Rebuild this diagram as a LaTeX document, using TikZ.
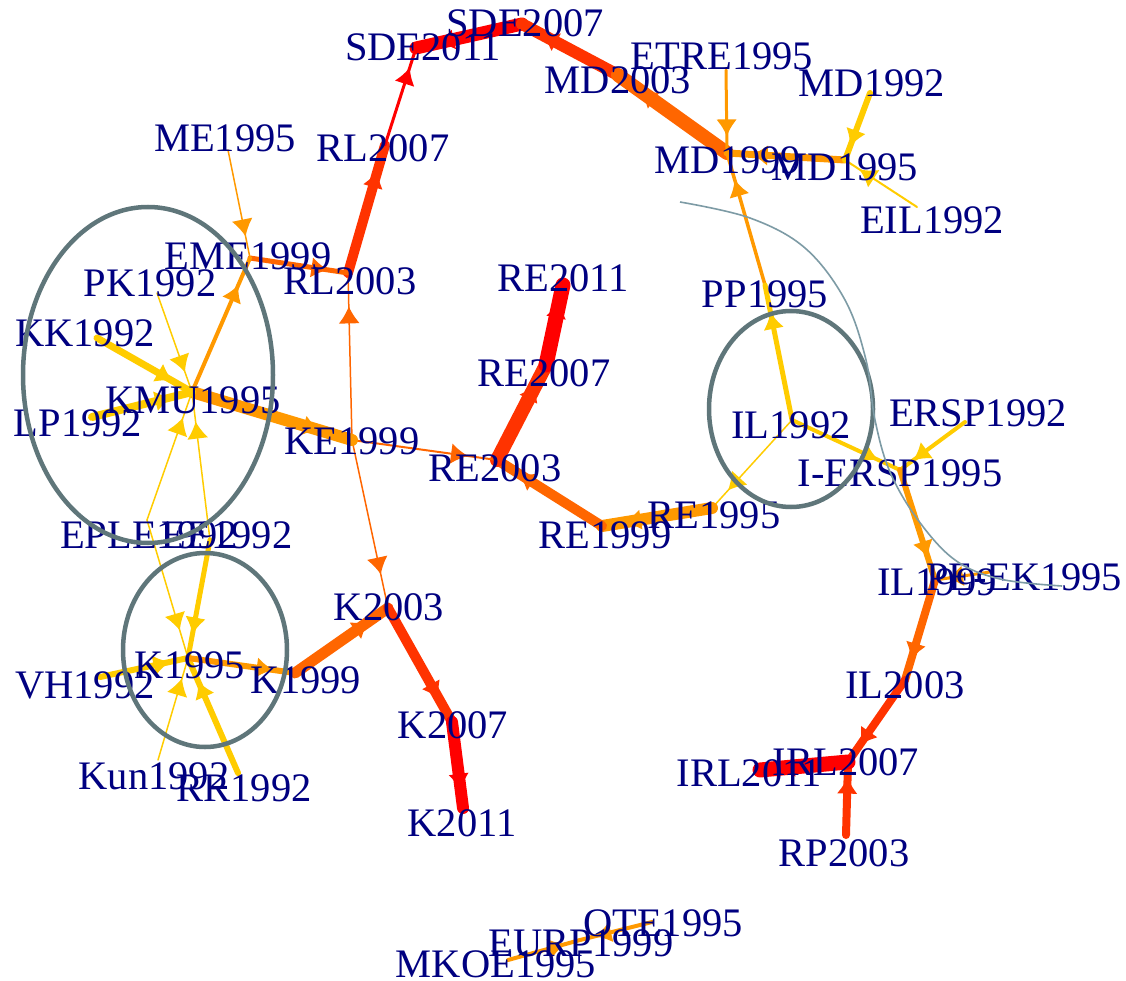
\documentclass[tikz,border=0pt]{standalone}
\usepackage{fontspec}
\setmainfont{Liberation Serif}
\usetikzlibrary{arrows.meta,decorations.markings}
\definecolor{navyc}{RGB}{0,0,128}
\definecolor{yel}{RGB}{255,204,0}
\definecolor{org}{RGB}{255,153,0}
\definecolor{dorg}{RGB}{255,102,0}
\definecolor{rorg}{RGB}{255,51,0}
\definecolor{redc}{RGB}{255,0,0}
\definecolor{ellc}{RGB}{95,118,122}
\definecolor{arcc}{RGB}{125,155,165}
\newcommand\lblfont{\fontsize{40.5pt}{48pt}\selectfont}
\tikzset{
  lbl/.style={text=navyc, font=\lblfont, inner sep=0pt, anchor=center},
  e/.style n args={2}{draw=#1, line width=#2, line cap=round,
    postaction={decorate},
    decoration={markings, mark=at position 0.8 with {\arrow[color=#1]{Latex[length=17pt,width=21pt]}}}},
  grp/.style={draw=ellc, line width=4.5pt},
  thinarc/.style={draw=arcc, line width=1.6pt}
}
\begin{document}
\begin{tikzpicture}[x=1pt,y=-1pt]
\useasboundingbox (0,0) rectangle (1126,981);
\fill[white] (0,0) rectangle (1126,981);
% node points
\coordinate (SDEa) at (522,24);
\coordinate (SDEb) at (416,48);
\coordinate (MDc) at (618,75);
\coordinate (ETRE) at (726,70);
\coordinate (MDa) at (870,93);
\coordinate (MDd) at (727,153);
\coordinate (MDb) at (845,160);
\coordinate (EIL) at (917,207);
\coordinate (RLb) at (385,145);
\coordinate (ME) at (228,150);
\coordinate (EME) at (250,258);
\coordinate (RLa) at (348,273);
\coordinate (PK) at (157,293);
\coordinate (REd) at (563,285);
\coordinate (PP) at (765,285);
\coordinate (KK) at (97,338);
\coordinate (KMU) at (192,392);
\coordinate (LP) at (92,417);
\coordinate (KE) at (352,440);
\coordinate (REc) at (546,365);
\coordinate (IL) at (792,420);
\coordinate (ERSP) at (965,422);
\coordinate (IERSP) at (900,470);
\coordinate (REb) at (497,460);
\coordinate (REaa) at (602,526);
\coordinate (REa) at (712,508);
\coordinate (EPLE) at (147,520);
\coordinate (EE) at (210,540);
\coordinate (ILb) at (935,580);
\coordinate (PEEK) at (990,572);
\coordinate (ILc) at (905,680);
\coordinate (IRLa) at (848,762);
\coordinate (IRLb) at (760,770);
\coordinate (RP) at (846,835);
\coordinate (Ka) at (188,658);
\coordinate (VH) at (100,677);
\coordinate (Kb) at (295,673);
\coordinate (Kc) at (388,608);
\coordinate (Kd) at (452,722);
\coordinate (Ke) at (463,808);
\coordinate (Kun) at (158,760);
\coordinate (RR) at (238,773);
\coordinate (MKOE) at (508,960);
\coordinate (EURP) at (580,940);
\coordinate (OTE) at (652,922);
% edges
\draw[e={redc}{13pt}] (SDEa) -- (SDEb);
\draw[e={rorg}{12pt}] (MDc) -- (SDEa);
\draw[e={dorg}{14pt}] (MDd) -- (MDc);
\draw[e={org}{3pt}] (ETRE) -- (MDd);
\draw[e={org}{7pt}] (MDb) -- (MDd);
\draw[e={yel}{6pt}] (MDa) -- (MDb);
\draw[e={yel}{2pt}] (EIL) -- (MDb);
\draw[e={org}{3.5pt}] (PP) -- (MDd);
\draw[e={yel}{5pt}] (IL) -- (PP);
\draw[e={yel}{4pt}] (IL) -- (IERSP);
\draw[e={yel}{1.5pt}] (IL) -- (REa);
\draw[e={yel}{4pt}] (ERSP) -- (IERSP);
\draw[e={org}{6pt}] (IERSP) -- (ILb);
\draw[e={org}{3pt}] (PEEK) -- (ILb);
\draw[e={dorg}{8pt}] (ILb) -- (ILc);
\draw[e={rorg}{8pt}] (ILc) -- (IRLa);
\draw[e={rorg}{8pt}] (RP) -- (IRLa);
\draw[e={redc}{15pt}] (IRLa) -- (IRLb);
\draw[e={org}{12pt}] (REa) -- (REaa);
\draw[e={dorg}{10pt}] (REaa) -- (REb);
\draw[e={rorg}{14pt}] (REb) -- (REc);
\draw[e={redc}{15pt}] (REc) -- (REd);
\draw[e={dorg}{2pt}] (KE) -- (REb);
\draw[e={dorg}{1.5pt}] (KE) -- (RLa);
\draw[e={dorg}{1.5pt}] (KE) -- (Kc);
\draw[e={rorg}{10pt}] (RLa) -- (RLb);
\draw[e={redc}{3pt}] (RLb) -- (SDEb);
\draw[e={dorg}{5pt}] (EME) -- (RLa);
\draw[e={org}{1.5pt}] (ME) -- (EME);
\draw[e={org}{4pt}] (KMU) -- (EME);
\draw[e={org}{12pt}] (KMU) -- (KE);
\draw[e={yel}{7pt}] (KK) -- (KMU);
\draw[e={yel}{1.5pt}] (PK) -- (KMU);
\draw[e={yel}{8pt}] (LP) -- (KMU);
\draw[e={yel}{1.5pt}] (EPLE) -- (KMU);
\draw[e={yel}{1.5pt}] (EE) -- (KMU);
\draw[e={yel}{1.5pt}] (EPLE) -- (Ka);
\draw[e={yel}{5pt}] (EE) -- (Ka);
\draw[e={yel}{6pt}] (VH) -- (Ka);
\draw[e={yel}{1.5pt}] (Kun) -- (Ka);
\draw[e={yel}{6pt}] (RR) -- (Ka);
\draw[e={org}{6pt}] (Ka) -- (Kb);
\draw[e={dorg}{11pt}] (Kb) -- (Kc);
\draw[e={rorg}{10pt}] (Kc) -- (Kd);
\draw[e={redc}{12pt}] (Kd) -- (Ke);
\draw[e={org}{4pt}] (MKOE) -- (EURP);
\draw[e={org}{4pt}] (OTE) -- (EURP);
% labels
\node[lbl] (tSDEa) at (525,23) {SDE2007};
\node[lbl] (tSDEb) at (423,47) {SDE2011};
\node[lbl] (tMDc) at (618,80) {MD2003};
\node[lbl] (tETRE) at (722,56) {ETRE1995};
\node[lbl] (tMDa) at (872,83) {MD1992};
\node[lbl] (tMDd) at (728,160) {MD1999};
\node[lbl] (tMDb) at (845,167) {MD1995};
\node[lbl] (tEIL) at (932,220) {EIL1992};
\node[lbl] (tRLb) at (383,148) {RL2007};
\node[lbl] (tME) at (225,138) {ME1995};
\node[lbl] (tEME) at (248,256) {EME1999};
\node[lbl] (tRLa) at (350,281) {RL2003};
\node[lbl] (tPK) at (150,283) {PK1992};
\node[lbl] (tREd) at (563,278) {RE2011};
\node[lbl] (tPP) at (765,294) {PP1995};
\node[lbl] (tKK) at (85,333) {KK1992};
\node[lbl] (tKMU) at (193,400) {KMU1995};
\node[lbl] (tLP) at (78,423) {LP1992};
\node[lbl] (tKE) at (352,441) {KE1999};
\node[lbl] (tREc) at (544,373) {RE2007};
\node[lbl] (tIL) at (791,425) {IL1992};
\node[lbl] (tERSP) at (978,413) {ERSP1992};
\node[lbl] (tIERSP) at (900,473) {I-ERSP1995};
\node[lbl] (tREb) at (495,468) {RE2003};
\node[lbl] (tREaa) at (605,535) {RE1999};
\node[lbl] (tREa) at (714,515) {RE1995};
\node[lbl] (tEPLE) at (149,535) {EPLE1992};
\node[lbl] (tEE) at (227,535) {EE1992};
\node[lbl] (tILb) at (937,582) {IL1999};
\node[lbl] (tPEEK) at (1024,577) {PE-EK1995};
\node[lbl] (tILc) at (905,685) {IL2003};
\node[lbl] (tIRLa) at (846,762) {IRL2007};
\node[lbl] (tIRLb) at (749,773) {IRL2011};
\node[lbl] (tRP) at (844,853) {RP2003};
\node[lbl] (tKa) at (190,665) {K1995};
\node[lbl] (tVH) at (85,685) {VH1992};
\node[lbl] (tKb) at (306,680) {K1999};
\node[lbl] (tKc) at (389,607) {K2003};
\node[lbl] (tKd) at (453,725) {K2007};
\node[lbl] (tKe) at (462,823) {K2011};
\node[lbl] (tKun) at (154,776) {Kun1992};
\node[lbl] (tRR) at (244,788) {RR1992};
\node[lbl] (tOTE) at (663,923) {OTE1995};
\node[lbl] (tEURP) at (581,943) {EURP1999};
\node[lbl] (tMKOE) at (496,964) {MKOE1995};
% groups
\draw[grp] (148,375) ellipse [x radius=125pt, y radius=168pt];
\draw[grp] (205,650) ellipse [x radius=82pt, y radius=97pt];
\draw[grp] (791,409) ellipse [x radius=82pt, y radius=98pt];
\draw[thinarc] plot[smooth, tension=0.6] coordinates {(680,202) (750,218) (805,248) (845,300) (866,360) (875,420) (890,472) (918,520) (955,560) (1000,579) (1062,586)};
\end{tikzpicture}
\end{document}
